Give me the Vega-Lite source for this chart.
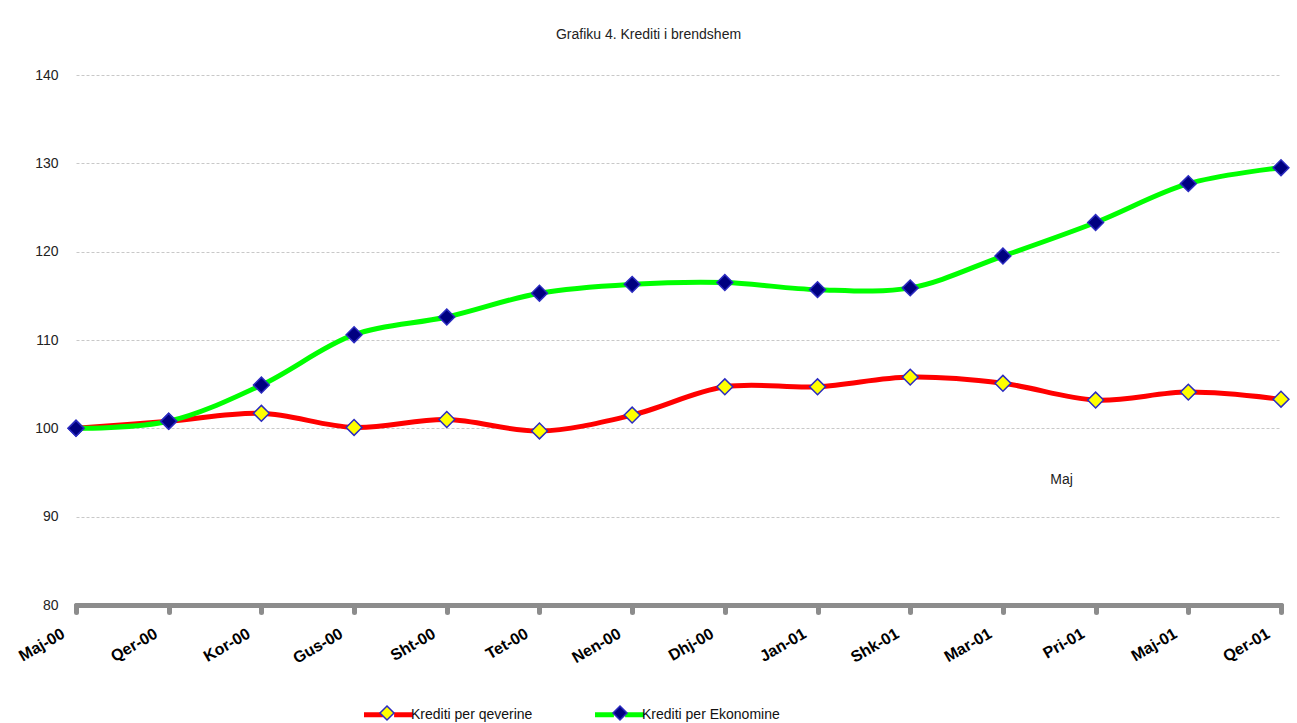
{
  "$schema": "https://vega.github.io/schema/vega-lite/v6.json",
  "autosize": {"type": "none"},
  "padding": {"left": 76, "top": 75, "right": 16, "bottom": 118},
  "width": 1205,
  "height": 530,
  "background": "white",
  "title": {
    "text": "Grafiku 4. Krediti i brendshem",
    "font": "Liberation Sans",
    "fontSize": 14,
    "fontWeight": "normal",
    "color": "#222222",
    "anchor": "middle",
    "offset": 26,
    "dx": -30
  },
  "config": {
    "view": {"stroke": null},
    "font": "Liberation Sans"
  },
  "datasets": {
    "series": [
      {"month": "Maj-00", "series": "Krediti per qeverine", "value": 100.0},
      {"month": "Qer-00", "series": "Krediti per qeverine", "value": 100.8},
      {"month": "Kor-00", "series": "Krediti per qeverine", "value": 101.7},
      {"month": "Gus-00", "series": "Krediti per qeverine", "value": 100.1},
      {"month": "Sht-00", "series": "Krediti per qeverine", "value": 101.0},
      {"month": "Tet-00", "series": "Krediti per qeverine", "value": 99.7},
      {"month": "Nen-00", "series": "Krediti per qeverine", "value": 101.5},
      {"month": "Dhj-00", "series": "Krediti per qeverine", "value": 104.7},
      {"month": "Jan-01", "series": "Krediti per qeverine", "value": 104.7},
      {"month": "Shk-01", "series": "Krediti per qeverine", "value": 105.8},
      {"month": "Mar-01", "series": "Krediti per qeverine", "value": 105.1},
      {"month": "Pri-01", "series": "Krediti per qeverine", "value": 103.2},
      {"month": "Maj-01", "series": "Krediti per qeverine", "value": 104.1},
      {"month": "Qer-01", "series": "Krediti per qeverine", "value": 103.3},
      {"month": "Maj-00", "series": "Krediti per Ekonomine", "value": 100.0},
      {"month": "Qer-00", "series": "Krediti per Ekonomine", "value": 100.8},
      {"month": "Kor-00", "series": "Krediti per Ekonomine", "value": 104.9},
      {"month": "Gus-00", "series": "Krediti per Ekonomine", "value": 110.6},
      {"month": "Sht-00", "series": "Krediti per Ekonomine", "value": 112.6},
      {"month": "Tet-00", "series": "Krediti per Ekonomine", "value": 115.3},
      {"month": "Nen-00", "series": "Krediti per Ekonomine", "value": 116.3},
      {"month": "Dhj-00", "series": "Krediti per Ekonomine", "value": 116.5},
      {"month": "Jan-01", "series": "Krediti per Ekonomine", "value": 115.7},
      {"month": "Shk-01", "series": "Krediti per Ekonomine", "value": 115.9},
      {"month": "Mar-01", "series": "Krediti per Ekonomine", "value": 119.5},
      {"month": "Pri-01", "series": "Krediti per Ekonomine", "value": 123.3},
      {"month": "Maj-01", "series": "Krediti per Ekonomine", "value": 127.7},
      {"month": "Qer-01", "series": "Krediti per Ekonomine", "value": 129.5}
    ],
    "note": [
      {"month": "Pri-01", "value": 94.1, "label": "Maj"}
    ]
  },
  "encoding": {
    "x": {
      "field": "month",
      "type": "ordinal",
      "sort": null,
      "scale": {"type": "point", "padding": 0,
        "domain": ["Maj-00","Qer-00","Kor-00","Gus-00","Sht-00","Tet-00","Nen-00","Dhj-00","Jan-01","Shk-01","Mar-01","Pri-01","Maj-01","Qer-01"]},
      "axis": {
        "title": null,
        "domainColor": "#8c8c8c",
        "domainWidth": 5,
        "domainCap": "round",
        "tickColor": "#8c8c8c",
        "tickWidth": 5,
        "tickSize": 7,
        "tickCap": "round",
        "labelAngle": -30,
        "labelAlign": "right",
        "labelBaseline": "middle",
        "labelPadding": 20,
        "labelOffset": -13,
        "labelFont": "Liberation Sans",
        "labelFontSize": 16,
        "labelFontWeight": "bold",
        "labelColor": "#000000",
        "grid": false
      }
    },
    "y": {
      "field": "value",
      "type": "quantitative",
      "scale": {"domain": [80, 140], "nice": false, "zero": false},
      "axis": {
        "title": null,
        "values": [80, 90, 100, 110, 120, 130, 140],
        "domain": false,
        "ticks": false,
        "labelPadding": 18,
        "labelFont": "Liberation Sans",
        "labelFontSize": 14,
        "labelColor": "#222222",
        "grid": true,
        "gridColor": "#c8c8c8",
        "gridDash": [3, 2],
        "gridWidth": 1
      }
    }
  },
  "layer": [
    {
      "data": {"name": "series"},
      "mark": {"type": "line", "interpolate": "catmull-rom", "strokeWidth": 5},
      "encoding": {
        "stroke": {
          "field": "series",
          "type": "nominal",
          "scale": {"domain": ["Krediti per qeverine", "Krediti per Ekonomine"], "range": ["#ff0000", "#00ff00"]},
          "legend": {
            "title": null,
            "orient": "none",
            "legendX": 303,
            "legendY": 630,
            "direction": "horizontal",
            "symbolType": "M-3.5,0L-0.8,0M0.8,0L3.5,0",
            "symbolSize": 196,
            "symbolStrokeWidth": 5,
            "labelFont": "Liberation Sans",
            "labelFontSize": 14,
            "labelColor": "#111111",
            "columnPadding": 52,
            "labelOffset": 13,
            "labelLimit": 300,
            "encode": {
              "symbols": {
                "update": {
                  "fill": {"value": "transparent"},
                  "strokeCap": {"value": "butt"}
                }
              }
            }
          }
        }
      }
    },
    {
      "data": {"name": "series"},
      "mark": {"type": "point", "shape": "diamond", "filled": true, "size": 250, "stroke": "#2b2bc0", "strokeWidth": 1.5, "opacity": 1},
      "encoding": {
        "fill": {
          "field": "series",
          "type": "nominal",
          "scale": {"domain": ["Krediti per Ekonomine", "Krediti per qeverine"], "range": ["#000080", "#ffff00"]},
          "legend": {
            "title": null,
            "orient": "none",
            "legendX": 303,
            "legendY": 630,
            "direction": "horizontal",
            "values": ["Krediti per qeverine", "Krediti per Ekonomine"],
            "symbolType": "M-3.75,0L-3.75,0M3.75,0L3.75,0M0,-1L1,0L0,1L-1,0Z",
            "symbolSize": 196,
            "symbolStrokeColor": "#2b2bc0",
            "symbolStrokeWidth": 1.5,
            "symbolOpacity": 1,
            "labelFont": "Liberation Sans",
            "labelFontSize": 14,
            "labelExpr": "''",
            "columnPadding": 173,
            "labelOffset": 13,
            "labelLimit": 300
          }
        }
      }
    },
    {
      "data": {"name": "note"},
      "mark": {"type": "text", "align": "center", "baseline": "middle", "dx": -34, "font": "Liberation Sans", "fontSize": 14, "color": "#222222"},
      "encoding": {
        "text": {"field": "label"}
      }
    }
  ]
}
